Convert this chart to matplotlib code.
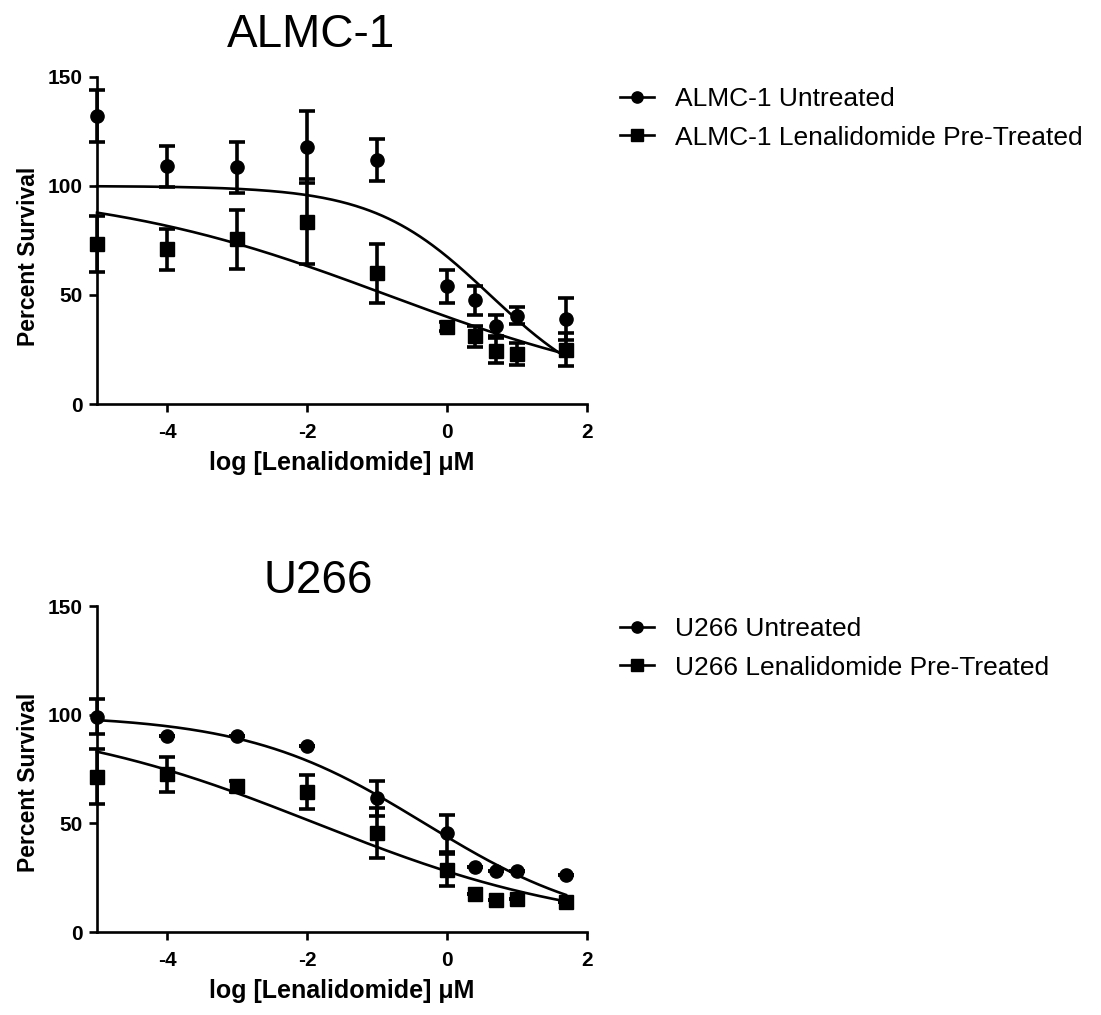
import numpy as np
import matplotlib
matplotlib.use("Agg")
import matplotlib.pyplot as plt
from matplotlib.lines import Line2D

plt.rcParams['font.family'] = ['Liberation Sans', 'DejaVu Sans']
plt.rcParams['axes.unicode_minus'] = False

# x values: log10 of lenalidomide concentration (uM)
log_conc = [-5, -4, -3, -2, -1, 0, 0.398, 0.699, 1.0, 1.699]

# ALMC-1
almc_untreated = [132, 109, 108.5, 118, 112, 54, 47.5, 36, 40.5, 39]
almc_untreated_err = [12, 9.5, 11.5, 16.5, 9.5, 7.5, 6.7, 5, 4, 9.5]
almc_pretreated = [73.5, 71, 75.5, 83.5, 60, 35.5, 31, 24.5, 23, 25]
almc_pretreated_err = [12.8, 9.5, 13.7, 19.5, 13.5, 2, 5, 5.7, 5, 7.6]

# U266
u266_untreated = [99, 90, 90, 85.5, 61.5, 45.5, 29.7, 28, 28.2, 26]
u266_untreated_err = [8, 0, 0, 0, 8, 8.5, 0, 0, 0, 0]
u266_pretreated = [71.5, 72.5, 67, 64.5, 45.5, 28.5, 17.6, 14.8, 15.1, 13.6]
u266_pretreated_err = [12.5, 8, 2.5, 7.8, 11.5, 7.5, 0, 0, 0, 0]

# fitted 4-parameter logistic curves: (top, bottom, logIC50, hill)
almc_untreated_fit = (100, 0, 0.615, 0.52)
almc_pretreated_fit = (100, 0, -0.852, 0.2065)
u266_untreated_fit = (100, 0, -0.32, 0.34)
u266_pretreated_fit = (100, 0, -1.873, 0.22)

xticks = [-4, -2, 0, 2]
yticks = [0, 50, 100, 150]

W, H = 1101, 1015
fig = plt.figure(figsize=(W / 100, H / 100), dpi=100)


def fx(px):
    return px / W


def fy(py):
    return 1 - py / H


def four_pl(x, p):
    top, bottom, c, h = p
    return bottom + (top - bottom) / (1 + 10 ** ((x - c) * h))


def panel(ax_rect, title, title_x, title_y, series, fits, labels, leg_y, ylab_y):
    ax = fig.add_axes(ax_rect)
    xs = np.array(log_conc)
    for (vals, errs, mk, ms), fit in zip(series, fits):
        xc = np.linspace(xs.min(), xs.max(), 300)
        ax.plot(xc, four_pl(xc, fit), color='black', lw=1.9, clip_on=False, zorder=2)
        ax.errorbar(xs, vals, yerr=errs, fmt=mk, color='black', ms=ms,
                    ecolor='black', elinewidth=2.6, capsize=6, capthick=2.6,
                    clip_on=False, zorder=3)
    ax.set_xlim(-5, 2)
    ax.set_ylim(0, 150)
    ax.set_xticks(xticks)
    ax.set_yticks(yticks)
    for s in ['top', 'right']:
        ax.spines[s].set_visible(False)
    for s in ['left', 'bottom']:
        ax.spines[s].set_linewidth(1.9)
    ax.tick_params(axis='both', direction='out', length=6, width=1.9,
                   labelsize=15)
    ax.tick_params(axis='x', pad=8)
    ax.tick_params(axis='y', pad=4)
    for lab in ax.get_xticklabels() + ax.get_yticklabels():
        lab.set_fontweight('bold')
    ax.set_xlabel('log [Lenalidomide] \u03bcM', fontsize=18, fontweight='bold')
    ax.xaxis.set_label_coords(0.5, -0.18)
    ax.xaxis.label.set_va('center')
    ax.set_ylabel('Percent Survival', fontsize=16.5, fontweight='bold')
    ax.yaxis.set_label_coords(-0.14, ylab_y)
    ax.yaxis.label.set_va('center')
    fig.text(fx(title_x), fy(title_y), title, fontsize=33, ha='center',
             va='baseline')
    handles = [Line2D([], [], color='black', lw=1.9, marker=s[2], ms=s[3] * 0.85)
               for s in series]
    fig.legend(handles, labels, loc='upper left',
               bbox_to_anchor=(fx(620), fy(leg_y)), frameon=False,
               fontsize=19, handlelength=1.3, handletextpad=0.8,
               labelspacing=0.55, borderpad=0, borderaxespad=0)
    return ax


# top panel: x from 97 to 587 px, y 77..404 px
panel([fx(97), fy(404), (587 - 97) / W, (404 - 77) / H],
      'ALMC-1', 311, 47,
      [(almc_untreated, almc_untreated_err, 'o', 9.5),
       (almc_pretreated, almc_pretreated_err, 's', 9.5)],
      [almc_untreated_fit, almc_pretreated_fit],
      ['ALMC-1 Untreated', 'ALMC-1 Lenalidomide Pre-Treated'], 87, 0.45)

panel([fx(97), fy(932), (587 - 97) / W, (932 - 606) / H],
      'U266', 318, 593,
      [(u266_untreated, u266_untreated_err, 'o', 9.5),
       (u266_pretreated, u266_pretreated_err, 's', 9.5)],
      [u266_untreated_fit, u266_pretreated_fit],
      ['U266 Untreated', 'U266 Lenalidomide Pre-Treated'], 617, 0.46)

fig.savefig('out.png', dpi=100)
